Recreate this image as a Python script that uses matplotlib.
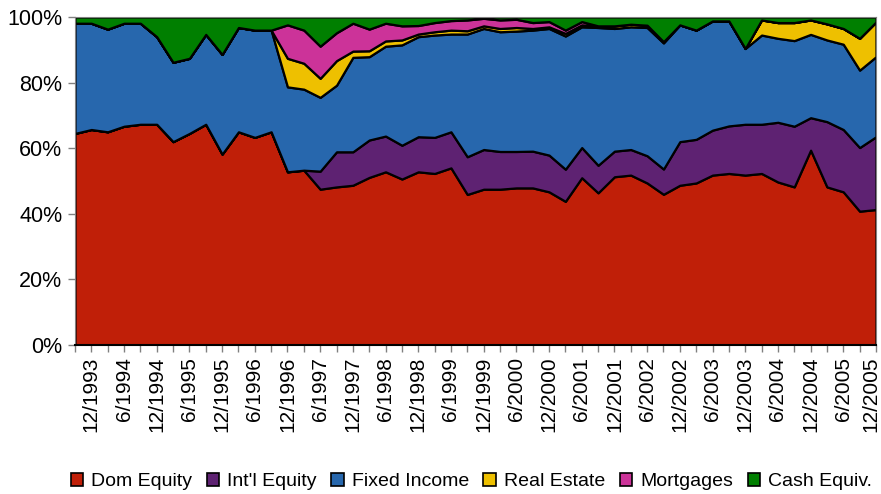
import numpy as np
import matplotlib.pyplot as plt
import matplotlib.transforms as mtransforms
from matplotlib.patches import Patch

plt.rcParams['font.family'] = ['Liberation Sans', 'DejaVu Sans']

# quarterly, 9/1993 .. 12/2005 (50 quarters)
quarters = []
for year in range(1993, 2006):
    for month in (3, 6, 9, 12):
        if (year, month) >= (1993, 9):
            quarters.append(f"{month}/{year}")

dom_equity = [64.5, 65.7, 65.0, 66.7, 67.3, 67.3, 62.0, 64.5, 67.3, 58.2,
              65.0, 63.3, 65.0, 52.8, 53.3, 47.5, 48.2, 48.7, 51.1, 52.8,
              50.6, 52.8, 52.3, 54.0, 45.9, 47.5, 47.5, 47.9, 47.9, 46.7,
              43.8, 51.0, 46.4, 51.3, 51.8, 49.4, 45.9, 48.7, 49.4, 51.8,
              52.3, 51.8, 52.3, 49.7, 48.2, 59.4, 48.2, 46.7, 40.8, 41.3]
intl_equity = [0, 0, 0, 0, 0, 0, 0, 0, 0, 0,
               0, 0, 0, 0, 0, 5.5, 10.7, 10.2, 11.4, 10.9,
               10.3, 10.7, 11.0, 11.0, 11.5, 12.1, 11.5, 11.1, 11.2, 11.2,
               9.8, 9.2, 8.4, 7.8, 7.8, 8.3, 7.7, 13.3, 13.3, 13.7,
               14.5, 15.5, 15.0, 18.2, 18.5, 9.9, 19.9, 19.0, 19.4, 22.2]
fixed_income = [33.6, 32.4, 31.3, 31.4, 30.8, 26.7, 24.2, 22.9, 27.4, 30.4,
                31.8, 32.7, 31.0, 25.9, 24.7, 22.5, 20.3, 28.8, 25.4, 27.4,
                30.6, 30.5, 31.2, 29.8, 37.4, 36.9, 36.5, 36.7, 36.9, 38.6,
                40.6, 36.8, 42.0, 37.4, 37.4, 39.1, 38.4, 35.6, 33.3, 33.3,
                32.0, 23.1, 27.2, 25.6, 26.1, 25.4, 24.9, 26.0, 23.6, 24.4]
real_estate = [0, 0, 0, 0, 0, 0, 0, 0, 0, 0,
               0, 0, 0, 8.7, 7.9, 5.8, 7.5, 1.9, 1.8, 1.6,
               1.5, 0.8, 1.0, 1.2, 1.0, 0.8, 1.0, 1.1, 0.5, 0.5,
               0.8, 0.6, 0.5, 0.8, 0.8, 0.7, 0.4, 0, 0, 0,
               0, 0, 4.6, 4.8, 5.5, 4.4, 4.9, 4.8, 9.7, 10.6]
mortgages = [0, 0, 0, 0, 0, 0, 0, 0, 0, 0,
             0, 0, 0, 10.2, 10.1, 9.8, 8.5, 8.5, 6.6, 5.4,
             4.3, 2.6, 2.8, 2.9, 3.3, 2.3, 2.6, 2.5, 1.8, 1.6,
             1.0, 1.0, 0, 0, 0, 0, 0, 0, 0, 0,
             0, 0, 0, 0, 0, 0, 0, 0, 0, 0]
cash_equiv = [1.9, 1.9, 3.7, 1.9, 1.9, 6.0, 13.8, 12.6, 5.3, 11.4,
              3.2, 4.0, 4.0, 2.4, 4.0, 8.9, 4.8, 1.9, 3.7, 1.9,
              2.7, 2.6, 1.7, 1.1, 0.9, 0.4, 0.9, 0.7, 1.7, 1.4,
              4.0, 1.4, 2.7, 2.7, 2.2, 2.5, 7.5, 2.4, 4.0, 1.2,
              1.2, 9.6, 0.9, 1.7, 1.7, 0.9, 2.1, 3.5, 6.5, 1.5]

labels = ["Dom Equity", "Int'l Equity", "Fixed Income", "Real Estate",
          "Mortgages", "Cash Equiv."]
colors = ["#C01F08", "#5E2272", "#2767AD", "#EEC000", "#CC3399", "#007F00"]

series = np.array([dom_equity, intl_equity, fixed_income, real_estate,
                   mortgages, cash_equiv])
series = series / series.sum(axis=0) * 100
x = np.arange(len(quarters))

fig = plt.figure(figsize=(8.81, 4.94), dpi=100)
ax = fig.add_axes([0.0851, 0.3016, 0.9092, 0.664])

ax.stackplot(x, series, colors=colors, edgecolor="black", linewidth=1.6)

ax.set_xlim(0, len(x) - 1)
ax.set_ylim(0, 100)
ax.set_yticks(np.arange(0, 101, 20))
ax.set_yticklabels([f"{v}%" for v in range(0, 101, 20)], fontsize=15.5)
ax.set_xticks(x)
ax.set_xticklabels([q if i % 2 == 1 else "" for i, q in enumerate(quarters)],
                   rotation=90, fontsize=15)
ax.tick_params(axis="both", direction="out", length=5, width=1, color="#808080")
ax.tick_params(axis="y", pad=4)
for side in ("left", "right", "top"):
    ax.spines[side].set_color("#808080")
ax.spines["bottom"].set_color("black")
ax.spines["bottom"].set_linewidth(1.5)

# nudge the last label so it stays inside the figure
last = ax.get_xticklabels()[-1]
last.set_transform(last.get_transform() +
                   mtransforms.ScaledTranslation(-5 / 100, 0, fig.dpi_scale_trans))

handles = [Patch(facecolor=c, edgecolor="black", linewidth=1.2) for c in colors]
fig.legend(handles, labels, loc="center", bbox_to_anchor=(0.535, 0.025), ncol=6,
           frameon=False, fontsize=14, handlelength=0.65, handleheight=0.65,
           handletextpad=0.4, columnspacing=0.75)

fig.savefig("out.png", dpi=100)
